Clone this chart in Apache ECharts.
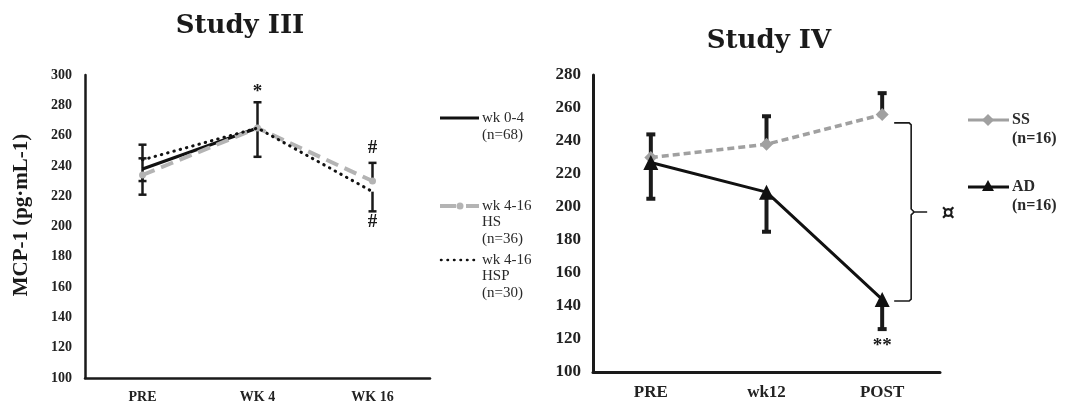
<!DOCTYPE html>
<html>
<head>
<meta charset="utf-8">
<script src="https://cdn.jsdelivr.net/npm/echarts@6/dist/echarts.min.js"></script>
<style>
  html, body { margin: 0; padding: 0; background: #fff; }
  #chart { width: 1065px; height: 404px; }
</style>
</head>
<body>
<div id="chart"></div>
<script>
// ---- Study III (MCP-1, pg·mL-1) ----
const catsIII = ['PRE', 'WK 4', 'WK 16'];
const wk04 = [238, 265, '-'];
const wk416HS = [234, 265, 230];
const wk416HSP = [244, 265, 223];
// error whiskers: [category index, from value, to value]
const errIII = [
  [0, 244, 254], [0, 238, 245], [0, 238, 230], [0, 234, 221],
  [1, 265, 282], [1, 265, 246],
  [2, 230, 242], [2, 223, 210]
];
// significance marks: [category index, value, text]
const marksIII = [[1, 289, '*'], [2, 252, '#'], [2, 203, '#']];
const ticksIII = { min: 100, max: 300, interval: 20 };

// ---- Study IV ----
const catsIV = ['PRE', 'wk12', 'POST'];
const ssVals = [230, 238, 256];
const adVals = [227, 209, 144];
const errIV = [
  [0, 230, 244], [0, 227, 205],
  [1, 238, 255], [1, 209, 185],
  [2, 256, 269], [2, 144, 126]
];
const marksIV = [[2, 116, '**']];
// group comparison bracket at POST: [category index, top value, bottom value, text]
const bracketIV = [[2, 251, 143, '¤']];
const ticksIV = { min: 100, max: 280, interval: 20 };

const SERIF = '"Liberation Serif", "DejaVu Serif", serif';
const TITLE_FONT = '"DejaVu Serif", "Liberation Serif", serif';

function errRender(capW, lw) {
  return function (params, api) {
    const x = api.value(0);
    const p0 = api.coord([x, api.value(1)]);
    const p1 = api.coord([x, api.value(2)]);
    const st = { stroke: '#1a1a1a', lineWidth: lw };
    return {
      type: 'group',
      children: [
        { type: 'line', shape: { x1: p0[0], y1: p0[1], x2: p1[0], y2: p1[1] }, style: st },
        { type: 'line', shape: { x1: p1[0] - capW / 2, y1: p1[1], x2: p1[0] + capW / 2, y2: p1[1] }, style: st }
      ]
    };
  };
}

const marksAll = { marksIII: marksIII, marksIV: marksIV };
function textRender(size) {
  return function (params, api) {
    const p = api.coord([api.value(0), api.value(1)]);
    return {
      type: 'text',
      x: p[0], y: p[1],
      style: {
        text: marksAll[params.seriesName][params.dataIndex][2],
        font: 'bold ' + size + 'px ' + SERIF,
        fill: '#1a1a1a', align: 'center', verticalAlign: 'middle'
      }
    };
  };
}

function bracketRender(params, api) {
  const x = api.value(0);
  const top = api.coord([x, api.value(1)]);
  const bot = api.coord([x, api.value(2)]);
  const x0 = top[0] + 12, xb = top[0] + 29, xt = top[0] + 45;
  const ym = (top[1] + bot[1]) / 2;
  const st = { stroke: '#1a1a1a', lineWidth: 1.6, fill: null };
  return {
    type: 'group',
    children: [
      { type: 'polyline', shape: { points: [[x0, top[1]], [xb - 2, top[1]], [xb, top[1] + 2], [xb, ym - 3], [xb + 3, ym], [xt, ym]] }, style: st },
      { type: 'polyline', shape: { points: [[xb + 3, ym], [xb, ym + 3], [xb, bot[1] - 2], [xb - 2, bot[1]], [x0, bot[1]]] }, style: st },
      { type: 'text', x: top[0] + 66, y: ym + 2, style: { text: bracketIV[params.dataIndex][3], font: 'bold 21px "DejaVu Sans", sans-serif', fill: '#1a1a1a', align: 'center', verticalAlign: 'middle' } }
    ]
  };
}

const axisLabelStyle = (size) => ({ color: '#222', fontFamily: SERIF, fontWeight: 'bold', fontSize: size });

// key rows: swatch beside the first text line
function legendRow(x, y, swatch, lines, size, bold, lineH) {
  const children = swatch.slice();
  lines.forEach((t, i) => {
    children.push({
      type: 'text', x: x, y: y + i * lineH,
      style: { text: t, font: (bold ? 'bold ' : '') + size + 'px ' + SERIF, fill: '#2a2a2a', verticalAlign: 'middle' }
    });
  });
  return { type: 'group', children: children };
}

const chart = echarts.init(document.getElementById('chart'), null, { renderer: 'canvas' });

const option = {
  animation: false,
  backgroundColor: '#fff',
  title: [
    { text: 'Study III', left: 235, top: 8, textAlign: 'center',
      textStyle: { fontFamily: TITLE_FONT, fontWeight: 'bold', fontSize: 26, color: '#1a1a1a' } },
    { text: 'Study IV', left: 764, top: 23, textAlign: 'center',
      textStyle: { fontFamily: TITLE_FONT, fontWeight: 'bold', fontSize: 26, color: '#1a1a1a' } }
  ],
  grid: [
    { left: 85, top: 75, width: 345, height: 303 },
    { left: 593, top: 75, width: 347, height: 297 }
  ],
  xAxis: [
    { type: 'category', gridIndex: 0, data: catsIII, boundaryGap: true,
      axisLine: { lineStyle: { color: '#1a1a1a', width: 2.5 } }, axisTick: { show: false },
      axisLabel: Object.assign(axisLabelStyle(14), { margin: 12 }) },
    { type: 'category', gridIndex: 1, data: catsIV, boundaryGap: true,
      axisLine: { lineStyle: { color: '#1a1a1a', width: 3 } }, axisTick: { show: false },
      axisLabel: Object.assign(axisLabelStyle(17), { margin: 12 }) }
  ],
  yAxis: [
    { type: 'value', gridIndex: 0, min: ticksIII.min, max: ticksIII.max, interval: ticksIII.interval,
      axisLine: { show: true, lineStyle: { color: '#1a1a1a', width: 2.5 } }, axisTick: { show: false },
      splitLine: { show: false },
      axisLabel: Object.assign(axisLabelStyle(14), { margin: 13 }) },
    { type: 'value', gridIndex: 1, min: ticksIV.min, max: ticksIV.max, interval: ticksIV.interval,
      axisLine: { show: true, lineStyle: { color: '#1a1a1a', width: 3 } }, axisTick: { show: false },
      splitLine: { show: false },
      axisLabel: Object.assign(axisLabelStyle(17), { margin: 12 }) }
  ],
  series: [
    { name: 'errIII', type: 'custom', xAxisIndex: 0, yAxisIndex: 0, data: errIII, renderItem: errRender(8, 2.5), z: 1 },
    { name: 'wk 0-4', type: 'line', xAxisIndex: 0, yAxisIndex: 0, data: wk04, showSymbol: false,
      lineStyle: { color: '#111', width: 3.2 }, z: 2 },
    { name: 'wk 4-16 HS', type: 'line', xAxisIndex: 0, yAxisIndex: 0, data: wk416HS, symbol: 'circle', symbolSize: 7,
      itemStyle: { color: '#b4b4b4' }, lineStyle: { color: '#b4b4b4', width: 4, type: [13, 7] }, z: 3 },
    { name: 'wk 4-16 HSP', type: 'line', xAxisIndex: 0, yAxisIndex: 0, data: wk416HSP, showSymbol: false,
      lineStyle: { color: '#111', width: 3, type: [0.5, 6], cap: 'round' }, z: 4 },
    { name: 'marksIII', type: 'custom', xAxisIndex: 0, yAxisIndex: 0, data: marksIII, renderItem: textRender(19), z: 5 },

    { name: 'errIV', type: 'custom', xAxisIndex: 1, yAxisIndex: 1, data: errIV, renderItem: errRender(9, 4), z: 1 },
    { name: 'SS', type: 'line', xAxisIndex: 1, yAxisIndex: 1, data: ssVals, symbol: 'diamond', symbolSize: 13,
      itemStyle: { color: '#a0a0a0' }, lineStyle: { color: '#a0a0a0', width: 3.5, type: [7, 4] }, z: 2 },
    { name: 'AD', type: 'line', xAxisIndex: 1, yAxisIndex: 1, data: adVals, symbol: 'triangle', symbolSize: 15,
      itemStyle: { color: '#111' }, lineStyle: { color: '#111', width: 3 }, z: 3 },
    { name: 'marksIV', type: 'custom', xAxisIndex: 1, yAxisIndex: 1, data: marksIV, renderItem: textRender(19), z: 5 },
    { name: 'bracketIV', type: 'custom', xAxisIndex: 1, yAxisIndex: 1, data: bracketIV, renderItem: bracketRender, z: 5 }
  ],
  graphic: [
    // y-axis title of Study III
    { type: 'text', x: 22, y: 215, rotation: Math.PI / 2,
      style: { text: 'MCP-1 (pg·mL-1)', font: 'bold 21px ' + SERIF, fill: '#1a1a1a', align: 'center', verticalAlign: 'middle' } },
    // Study III key
    legendRow(482, 118, [
      { type: 'line', shape: { x1: 440, y1: 118, x2: 479, y2: 118 }, style: { stroke: '#111', lineWidth: 3 } }
    ], ['wk 0-4', '(n=68)'], 15, false, 17),
    legendRow(482, 206, [
      { type: 'line', shape: { x1: 440, y1: 206, x2: 456, y2: 206 }, style: { stroke: '#b4b4b4', lineWidth: 4 } },
      { type: 'line', shape: { x1: 466, y1: 206, x2: 479, y2: 206 }, style: { stroke: '#b4b4b4', lineWidth: 4 } },
      { type: 'circle', shape: { cx: 460, cy: 206, r: 3.5 }, style: { fill: '#b4b4b4' } }
    ], ['wk 4-16', 'HS', '(n=36)'], 15, false, 16.5),
    legendRow(482, 260, [
      { type: 'line', shape: { x1: 441, y1: 260, x2: 479, y2: 260 }, style: { stroke: '#111', lineWidth: 2.5, lineDash: [0.5, 6], lineCap: 'round' } }
    ], ['wk 4-16', 'HSP', '(n=30)'], 15, false, 16.5),
    // Study IV key
    legendRow(1012, 120, [
      { type: 'line', shape: { x1: 968, y1: 120, x2: 1009, y2: 120 }, style: { stroke: '#a0a0a0', lineWidth: 3 } },
      { type: 'polygon', shape: { points: [[988, 114], [994, 120], [988, 126], [982, 120]] }, style: { fill: '#a0a0a0' } }
    ], ['SS', '(n=16)'], 16, true, 19),
    legendRow(1012, 187, [
      { type: 'line', shape: { x1: 968, y1: 187, x2: 1009, y2: 187 }, style: { stroke: '#111', lineWidth: 3 } },
      { type: 'polygon', shape: { points: [[988, 180], [994, 191], [982, 191]] }, style: { fill: '#111' } }
    ], ['AD', '(n=16)'], 16, true, 19)
  ]
};

chart.setOption(option);
</script>
</body>
</html>
